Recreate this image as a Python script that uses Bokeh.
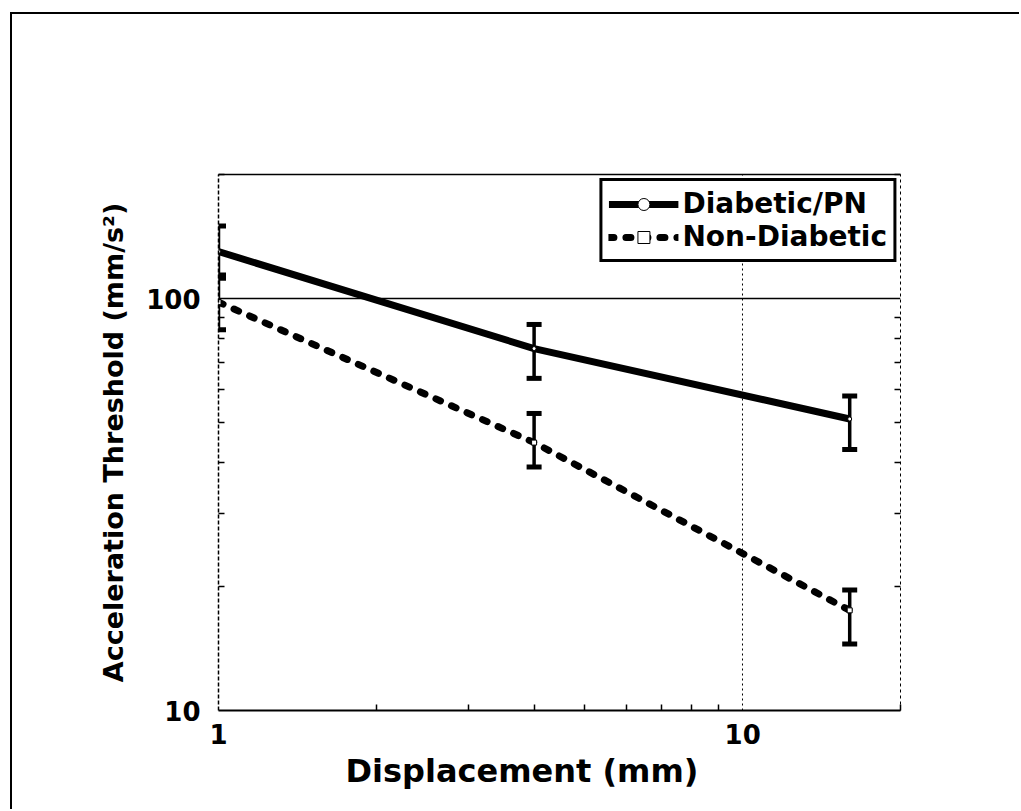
from bokeh.plotting import figure
from bokeh.models import (ColumnDataSource, Whisker, TeeHead, FixedTicker, LogAxis,
                          Legend, LegendItem, NumeralTickFormatter, Title)
from bokeh.embed import file_html
from bokeh.resources import INLINE

# ---- data ----
displacement = [1, 4, 16]
diabetic = [130, 75.6, 51]
diabetic_upper = [150, 86.5, 58]
diabetic_lower = [112, 64, 43]
nondiabetic = [98, 44.7, 17.5]
nondiabetic_upper = [114, 52.6, 19.6]
nondiabetic_lower = [84, 39, 14.5]
x_ticks = [1, 10]
y_ticks = [10, 100]
x_minor = [2, 3, 4, 5, 6, 7, 8, 9, 20]
y_minor = [20, 30, 40, 50, 60, 70, 80, 90, 200]

FONT = "DejaVu Sans"

src_d = ColumnDataSource(dict(x=displacement, y=diabetic, up=diabetic_upper, lo=diabetic_lower))
src_n = ColumnDataSource(dict(x=displacement, y=nondiabetic, up=nondiabetic_upper, lo=nondiabetic_lower))

p = figure(width=1009, height=797, x_axis_type="log", y_axis_type="log",
           x_range=(1, 20), y_range=(10, 200),
           output_backend="svg", toolbar_location=None,
           min_border_left=206, min_border_right=121, min_border_top=160, min_border_bottom=101)
p.margin = (12, 0, 0, 10)
p.styles = {"border-left": "2px solid black", "border-top": "2px solid black"}
p.outline_line_color = None
p.background_fill_color = "white"
p.border_fill_color = "white"

# grids
p.xgrid.ticker = FixedTicker(ticks=[10])
p.xgrid.grid_line_color = "black"
p.xgrid.grid_line_dash = "2 3"
p.xgrid.grid_line_width = 1
p.ygrid.ticker = FixedTicker(ticks=[100])
p.ygrid.grid_line_color = "black"
p.ygrid.grid_line_width = 1.5

def style_axis(ax, ticks, minors):
    ax.ticker = FixedTicker(ticks=ticks, minor_ticks=minors)
    ax.formatter = NumeralTickFormatter(format="0")
    ax.major_tick_in = 0
    ax.major_tick_out = 0
    ax.minor_tick_in = 6
    ax.minor_tick_out = 0
    ax.minor_tick_line_color = "black"
    ax.minor_tick_line_width = 1.5
    ax.axis_line_color = "black"
    ax.axis_line_width = 1.5
    ax.major_label_text_font = FONT
    ax.major_label_text_font_style = "bold"
    ax.major_label_text_font_size = "26px"
    ax.major_label_text_color = "black"

xa = p.xaxis[0]
ya = p.yaxis[0]
style_axis(xa, x_ticks, x_minor)
style_axis(ya, y_ticks, y_minor)
xa.axis_line_width = 2
xa.major_label_standoff = 13
ya.major_label_standoff = 18
ya.axis_line_dash = "4 2"

ya.axis_label = "Acceleration Threshold (mm/s\u00b2)"
ya.axis_label_text_font = FONT
ya.axis_label_text_font_style = "bold"
ya.axis_label_text_font_size = "27px"
ya.axis_label_text_color = "black"
ya.axis_label_standoff = 14

# x-axis title (sits left of the frame centre in the reference)
p.add_layout(Title(text="Displacement (mm)", align="left", offset=127, standoff=6,
                   text_font=FONT, text_font_style="bold", text_font_size="32px",
                   text_color="black"), "below")

ra = LogAxis()
style_axis(ra, y_ticks, y_minor)
ra.major_label_text_color = None
ra.axis_line_dash = "3 3"
ra.axis_line_width = 1
p.add_layout(ra, "right")
ta = LogAxis()
style_axis(ta, x_ticks, x_minor)
ta.major_label_text_color = None
ta.minor_tick_in = 0
p.add_layout(ta, "above")

# lines
l1 = p.line("x", "y", source=src_d, line_color="black", line_width=7)
m1 = p.scatter("x", "y", source=src_d, marker="circle", size=4, fill_color="white",
               line_color="black", line_width=1)
l2 = p.line("x", "y", source=src_n, line_color="black", line_width=7,
            line_dash="5 12", line_cap="round")
m2 = p.scatter("x", "y", source=src_n, marker="square", size=5, fill_color="white",
               line_color="black", line_width=1)

for src in (src_d, src_n):
    w = Whisker(source=src, base="x", upper="up", lower="lo", dimension="height",
                line_color="black", line_width=3.5,
                upper_head=TeeHead(size=15, line_width=5, line_color="black"),
                lower_head=TeeHead(size=15, line_width=5, line_color="black"))
    p.add_layout(w)

legend = Legend(items=[LegendItem(label="Diabetic/PN", renderers=[l1, m1]),
                       LegendItem(label="Non-Diabetic", renderers=[l2, m2])],
                location="top_right")
legend.margin = 4
legend.padding = 6
legend.spacing = 0
legend.glyph_width = 70
legend.glyph_height = 30
legend.label_height = 30
legend.label_standoff = 4
legend.label_text_font = FONT
legend.label_text_font_style = "bold"
legend.label_text_font_size = "28px"
legend.label_text_color = "black"
legend.border_line_color = "black"
legend.border_line_alpha = 1
legend.border_line_width = 3
legend.background_fill_color = "white"
legend.background_fill_alpha = 1
p.add_layout(legend, "center")

open("out.html", "w").write(file_html(p, INLINE))
